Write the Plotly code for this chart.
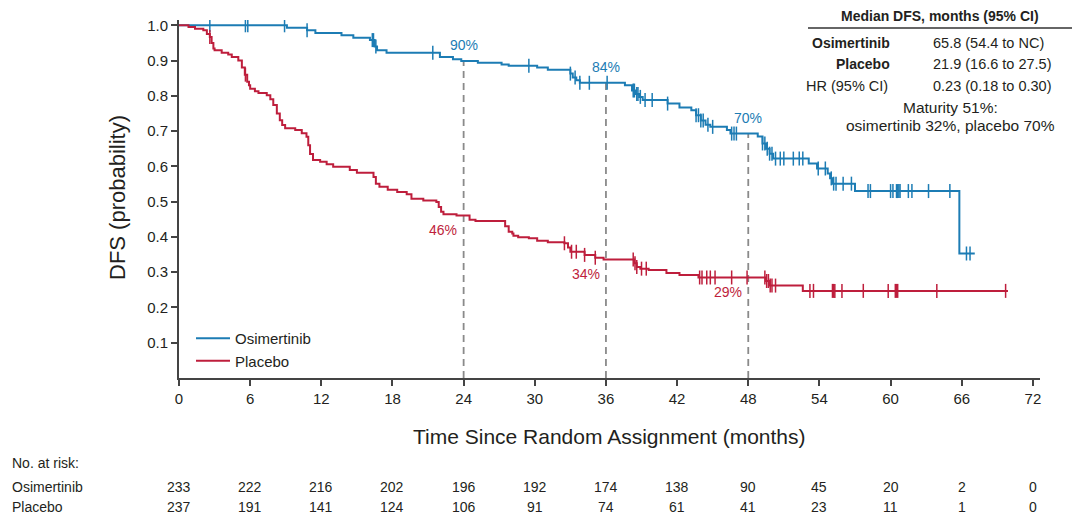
import plotly.graph_objects as go

# ---------------- data ----------------
osi_t = [0, 9.1, 10.8, 11.5, 13.7, 14.7, 16.1, 16.5, 16.7, 17.5, 22.0, 23.1, 23.8, 25.2, 27.2,
         27.8, 30.2, 31.1, 33.0, 33.2, 33.5, 33.8, 37.6, 38.2, 38.5, 38.8, 39.1, 41.2, 42.2, 43.2,
         43.6, 44.0, 44.4, 44.8, 46.2, 46.5, 48.8, 49.2, 49.5, 49.8, 50.1, 53.1, 53.8, 54.7, 54.9,
         55.1, 57.0, 65.8, 67.1]
osi_s = [1.0, 0.993, 0.986, 0.978, 0.972, 0.965, 0.958, 0.940, 0.929, 0.922, 0.910, 0.904, 0.899,
         0.894, 0.889, 0.885, 0.880, 0.874, 0.863, 0.852, 0.844, 0.837, 0.830, 0.815, 0.805, 0.797,
         0.788, 0.778, 0.767, 0.759, 0.745, 0.730, 0.718, 0.712, 0.703, 0.693, 0.685, 0.665, 0.650,
         0.636, 0.622, 0.608, 0.594, 0.580, 0.566, 0.551, 0.530, 0.353, 0.353]
osi_cens = [2.6, 5.6, 5.8, 8.9, 10.8, 16.3, 16.4, 16.6, 21.4, 29.5, 33.0, 33.4, 33.8, 34.6, 36.1,
            38.3, 38.4, 38.6, 38.7, 38.9, 39.3, 39.9, 41.2, 43.6, 43.8, 44.0, 44.2, 44.6, 45.0,
            46.6, 46.8, 47.0, 49.2, 49.4, 49.6, 49.8, 50.0, 50.3, 50.7, 51.0, 51.8, 52.3, 52.6,
            53.9, 54.5, 55.0, 55.2, 55.4, 56.0, 56.7, 58.1, 58.3, 60.0, 60.2, 60.5, 60.6, 60.7,
            60.8, 61.5, 61.8, 63.2, 65.0, 66.4, 66.7]

pla_t = [0, 0.8, 1.35, 2.05, 2.35, 2.6, 2.75, 2.9, 3.0, 3.6, 4.15, 4.45, 5.0, 5.3, 5.55, 5.75,
         5.9, 6.0, 6.4, 6.7, 7.4, 7.7, 7.95, 8.25, 8.5, 8.7, 8.95, 9.8, 10.35, 10.75, 10.9, 11.05,
         11.3, 11.9, 12.45, 13.0, 14.4, 15.0, 16.4, 16.6, 16.9, 17.6, 18.4, 19.2, 19.6, 20.6,
         21.7, 21.9, 22.1, 22.3, 23.4, 24.5, 25.0, 27.5, 27.8, 28.1, 28.2, 28.6, 29.5, 30.2,
         31.1, 32.5, 32.8, 33.0, 34.2, 35.1, 35.8, 38.4, 38.6, 38.9, 39.6, 41.1, 42.2, 43.8,
         49.5, 49.8, 52.6, 69.9]
pla_s = [1.0, 0.995, 0.990, 0.986, 0.975, 0.967, 0.950, 0.934, 0.929, 0.922, 0.917, 0.910, 0.900,
         0.880, 0.860, 0.840, 0.830, 0.820, 0.813, 0.808, 0.802, 0.790, 0.774, 0.750, 0.731, 0.717,
         0.708, 0.703, 0.694, 0.684, 0.660, 0.635, 0.618, 0.613, 0.606, 0.599, 0.590, 0.582, 0.570,
         0.551, 0.542, 0.534, 0.527, 0.521, 0.508, 0.503, 0.499, 0.485, 0.471, 0.464, 0.461, 0.449,
         0.445, 0.430, 0.415, 0.410, 0.403, 0.399, 0.396, 0.389, 0.385, 0.382, 0.370, 0.358, 0.349,
         0.341, 0.336, 0.325, 0.315, 0.310, 0.306, 0.298, 0.292, 0.285, 0.275, 0.262, 0.247, 0.247]
pla_cens = [2.6, 5.6, 32.5, 33.1, 33.5, 34.2, 35.1, 38.3, 38.45, 38.6, 39.0, 39.4, 43.9, 44.1,
            44.5, 44.8, 45.2, 46.6, 47.9, 49.4, 49.55, 49.7, 49.85, 50.0, 50.3, 53.2, 53.5, 55.1,
            55.2, 55.3, 55.9, 57.7, 59.8, 60.4, 60.5, 60.6, 63.9, 69.7]

landmarks = [24, 36, 48]
osi_labels = ["90%", "84%", "70%"]
pla_labels = ["46%", "34%", "29%"]

risk_times = [0, 6, 12, 18, 24, 30, 36, 42, 48, 54, 60, 66, 72]
risk_osi = [233, 222, 216, 202, 196, 192, 174, 138, 90, 45, 20, 2, 0]
risk_pla = [237, 191, 141, 124, 106, 91, 74, 61, 41, 23, 11, 1, 0]

x_ticks = [0, 6, 12, 18, 24, 30, 36, 42, 48, 54, 60, 66, 72]
y_ticks = [0.1, 0.2, 0.3, 0.4, 0.5, 0.6, 0.7, 0.8, 0.9, 1.0]

BLUE = "#1C7CB4"
RED = "#BE1E3C"
FONT = "Liberation Sans"
TXT = "#231F20"


def step_value(ts, ss, t):
    v = ss[0]
    for ti, si in zip(ts, ss):
        if ti <= t:
            v = si
        else:
            break
    return v


# ---------------- figure ----------------
# page body has an 8px margin: the figure is drawn from screen (8, 8)
OFF = 8
W, H = 1080 - OFF, 523 - OFF
L, T = 179 - OFF, 20 - OFF
pw, ph = 861, 358
R, B = W - L - pw, H - T - ph


def px(xs):  # screen x -> paper
    return (xs - OFF - L) / pw


def py(ys):  # screen y -> paper
    return (T + ph - (ys - OFF)) / ph


fig = go.Figure()

for lm in landmarks:
    fig.add_trace(go.Scatter(x=[lm, lm], y=[0, step_value(osi_t, osi_s, lm)], mode="lines",
                             line=dict(color="#8a8a8a", width=1.8, dash="7px,5px"),
                             showlegend=False, hoverinfo="skip"))

fig.add_trace(go.Scatter(x=osi_t, y=osi_s, mode="lines", line=dict(color=BLUE, width=2, shape="hv"),
                         name="Osimertinib"))
fig.add_trace(go.Scatter(x=pla_t, y=pla_s, mode="lines", line=dict(color=RED, width=2, shape="hv"),
                         name="Placebo"))

fig.add_trace(go.Scatter(x=osi_cens, y=[step_value(osi_t, osi_s, t) for t in osi_cens], mode="markers",
                         marker=dict(symbol="line-ns-open", size=10, color=BLUE,
                                     line=dict(color=BLUE, width=1.5)),
                         showlegend=False, hoverinfo="skip"))
fig.add_trace(go.Scatter(x=pla_cens, y=[step_value(pla_t, pla_s, t) for t in pla_cens], mode="markers",
                         marker=dict(symbol="line-ns-open", size=10, color=RED,
                                     line=dict(color=RED, width=1.5)),
                         showlegend=False, hoverinfo="skip"))

ann = []


def add_text(x, y, text, size, color=TXT, xanchor="center", xref="paper", yref="paper", angle=0):
    ann.append(dict(x=x, y=y, xref=xref, yref=yref, text=text, showarrow=False, xanchor=xanchor,
                    yanchor="middle", textangle=angle, font=dict(family=FONT, size=size, color=color)))


for lm, lab in zip(landmarks, osi_labels):
    add_text(lm, step_value(osi_t, osi_s, lm) + 0.045, lab, 14, BLUE, xref="x", yref="y")
for lm, lab in zip(landmarks, pla_labels):
    add_text(lm - 1.7, step_value(pla_t, pla_s, lm) - 0.04, lab, 14, RED, xref="x", yref="y")

# axis titles
add_text(px(609), py(437), "Time Since Random Assignment (months)", 21)
add_text(px(117), py(198), "DFS (probability)", 22, angle=-90)

# at-risk table
add_text(px(10), py(463), "No. at risk:", 14, xanchor="left")
add_text(px(10), py(487), "Osimertinib", 14, xanchor="left")
add_text(px(10), py(507), "Placebo", 14, xanchor="left")
for t, a, b in zip(risk_times, risk_osi, risk_pla):
    add_text(t, py(487), str(a), 14, xref="x")
    add_text(t, py(507), str(b), 14, xref="x")

# median table (top right)
add_text(px(940), py(16.5), "<b>Median DFS, months (95% CI)</b>", 14)
add_text(px(892), py(43), "<b>Osimertinib</b>", 14, xanchor="right")
add_text(px(931), py(43), "65.8 (54.4 to NC)", 14.5, xanchor="left")
add_text(px(892), py(64), "<b>Placebo</b>", 14, xanchor="right")
add_text(px(931), py(64), "21.9 (16.6 to 27.5)", 14.5, xanchor="left")
add_text(px(890), py(86), "HR (95% CI)", 14.5, xanchor="right")
add_text(px(931), py(86), "0.23 (0.18 to 0.30)", 14.5, xanchor="left")
add_text(px(950), py(107), "Maturity 51%:", 15.5)
add_text(px(950), py(126), "osimertinib 32%, placebo 70%", 15.5)

shapes = [dict(type="line", xref="paper", yref="paper", x0=px(808), x1=px(1072), y0=py(28), y1=py(28),
               line=dict(color="#333333", width=1.5))]

fig.update_layout(
    width=W, height=H,
    margin=dict(l=L, r=R, t=T, b=B, autoexpand=False),
    paper_bgcolor="white", plot_bgcolor="white",
    font=dict(family=FONT, size=15, color=TXT),
    annotations=ann, shapes=shapes,
    legend=dict(x=px(191), y=py(322), xanchor="left", yanchor="top", bgcolor="rgba(0,0,0,0)",
                font=dict(family=FONT, size=15, color=TXT), tracegroupgap=0, itemwidth=34),
    xaxis=dict(range=[0, 72.6], tickvals=x_ticks, ticks="outside", ticklen=6, tickwidth=1.5,
               tickcolor="#444", showline=True, linecolor="#444", linewidth=2, showgrid=False,
               zeroline=False, tickfont=dict(family=FONT, size=15, color=TXT)),
    yaxis=dict(range=[0, 1.015], tickvals=y_ticks, tickformat=".1f", ticks="outside", ticklen=6,
               tickwidth=1.5, tickcolor="#444", showline=True, linecolor="#444", linewidth=2,
               showgrid=False, zeroline=False, tickfont=dict(family=FONT, size=15, color=TXT)),
)

fig.write_html("out.html")
